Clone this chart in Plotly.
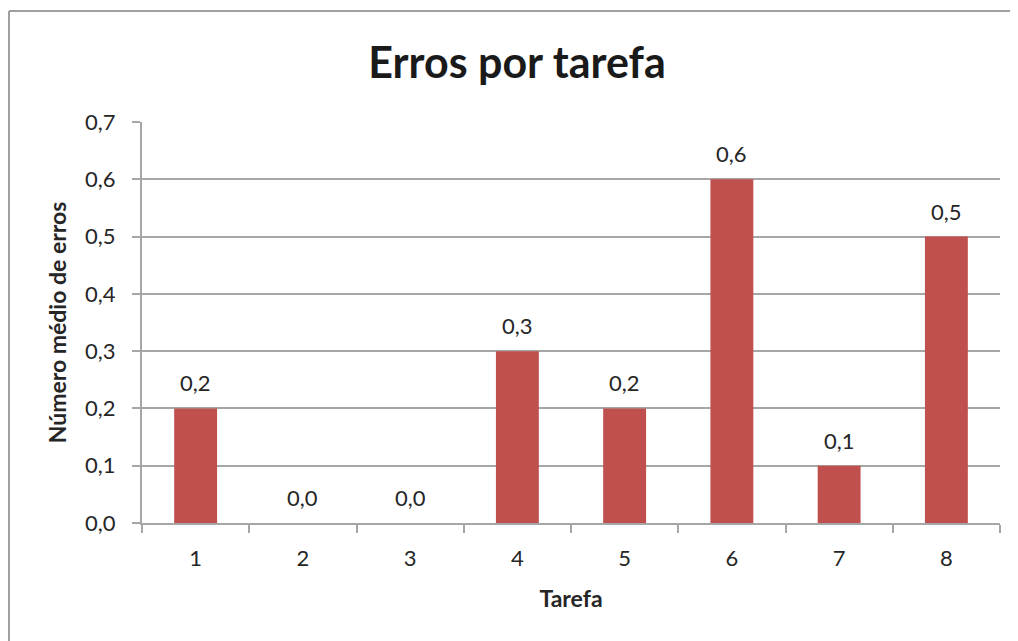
import plotly.graph_objects as go

tarefas = ["1", "2", "3", "4", "5", "6", "7", "8"]
erros_medios = [0.2, 0.0, 0.0, 0.3, 0.2, 0.6, 0.1, 0.5]
y_ticks = [0.0, 0.1, 0.2, 0.3, 0.4, 0.5, 0.6, 0.7]

BAR_COLOR = "#C0504D"
GRID = "#A6A6A6"
FONT = "Lato, 'Open Sans', sans-serif"

fig = go.Figure(go.Bar(
    x=tarefas,
    y=erros_medios,
    marker=dict(color=BAR_COLOR, line=dict(width=0)),
    hoverinfo="x+y",
))

# value labels above each bar (x given as category index)
for i, v in enumerate(erros_medios):
    fig.add_annotation(
        x=i, y=v, text=f"{v:.1f}".replace(".", ","),
        showarrow=False, yanchor="bottom", yshift=10,
        font=dict(size=22, color="#262626"),
    )

# the page body adds an 8px offset, so the figure is laid out 8px up/left
W, H = 1010, 633
L, T = 134, 114
PW, PH = 858, 401
R = W - L - PW
B = H - T - PH

# chart border: only the top and left edges fall inside the picture
bx0 = (1 - L) / PW
bx1 = (W - L) / PW
by0 = -B / PH
by1 = (H - 3 - B) / PH
border = dict(color="#A0A0A0", width=2)

fig.update_layout(
    width=W, height=H,
    separators=",.",
    paper_bgcolor="white",
    plot_bgcolor="white",
    margin=dict(l=L, r=R, t=T, b=B),
    font=dict(family=FONT, color="#262626"),
    title=dict(
        text="<b>Erros por tarefa</b>",
        x=(517 - 8) / W, xanchor="center", xref="container",
        y=1 - (63 - 8) / H, yanchor="middle",
        font=dict(size=43, color="#1a1a1a", family=FONT),
    ),
    bargap=0.6,
    showlegend=False,
    shapes=[
        dict(type="line", xref="paper", yref="paper", x0=bx0, x1=bx0, y0=by0, y1=by1,
             line=border, layer="below"),
        dict(type="line", xref="paper", yref="paper", x0=bx0, x1=bx1, y0=by1, y1=by1,
             line=border, layer="below"),
    ],
)

fig.update_xaxes(
    type="category",
    title=dict(text="<b>Tarefa</b>", font=dict(size=23), standoff=20),
    tickfont=dict(size=22),
    ticklabelstandoff=15,
    showline=True, linecolor=GRID, linewidth=2,
    ticks="outside", tickson="boundaries", ticklen=8, tickcolor=GRID, tickwidth=2,
    showgrid=False,
)
fig.update_yaxes(
    title=dict(text="<b>Número médio de erros</b>", font=dict(size=23), standoff=12),
    range=[0, 0.7],
    tickvals=y_ticks,
    tickformat=".1f",
    tickfont=dict(size=22),
    ticklabelstandoff=12,
    showline=True, linecolor=GRID, linewidth=2,
    ticks="outside", ticklen=8, tickcolor=GRID, tickwidth=2,
    showgrid=True, gridcolor=GRID, gridwidth=2,
    zeroline=False,
)

fig.write_html("out.html")
